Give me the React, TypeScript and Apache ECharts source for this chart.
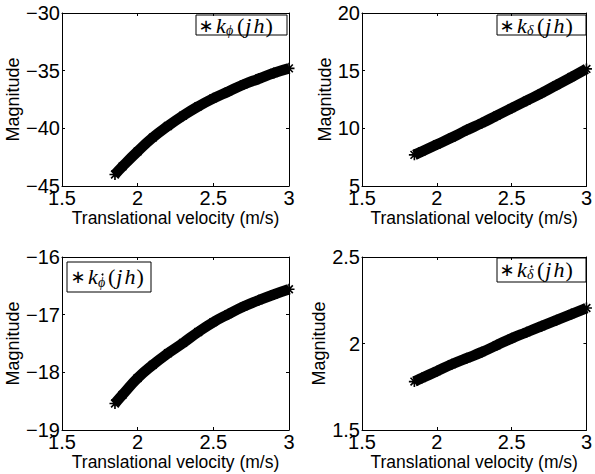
import React, { useEffect, useRef } from "react";
import * as echarts from "echarts";

// ---- data ----
const velocity = [1.85, 1.9, 2.0, 2.1, 2.2, 2.3, 2.4, 2.5, 2.6, 2.7, 2.8, 2.9, 3.0];
const kPhi = [-44.0, -43.3, -42.0, -40.8, -39.8, -38.9, -38.1, -37.4, -36.8, -36.2, -35.7, -35.2, -34.8];
const kDelta = [7.7, 8.0, 8.6, 9.2, 9.85, 10.45, 11.1, 11.75, 12.4, 13.05, 13.75, 14.45, 15.15];
const kPhiDot = [-18.54, -18.39, -18.1, -17.87, -17.67, -17.49, -17.3, -17.13, -16.99, -16.86, -16.75, -16.65, -16.56];
const kDeltaDot = [1.78, 1.8, 1.84, 1.88, 1.915, 1.95, 1.99, 2.03, 2.065, 2.1, 2.135, 2.17, 2.205];

const xMin = 1.5;
const xMax = 3;
const xStep = 0.5;
const yMins = [-45, 5, -19, 1.5];
const yMaxs = [-30, 20, -16, 2.5];
const ySteps = [5, 5, 1, 0.5];
const seriesNames = ["kϕ(jh)", "kδ(jh)", "kϕ̇(jh)", "kδ̇(jh)"];
const subscripts = ["ϕ", "δ", "ϕ", "δ"];
const subDots = [false, false, true, true];
const xLabel = "Translational velocity (m/s)";
const yLabel = "Magnitude";

// ---- layout ----
const grids = [
  { left: 62, top: 13, width: 227, height: 173 },
  { left: 362, top: 13, width: 226, height: 173 },
  { left: 62, top: 257, width: 227, height: 173 },
  { left: 362, top: 257, width: 226, height: 173 },
];
const yNameGaps = [37, 28, 37, 33];
const legendBoxes = [
  { x: 196, y: 15, w: 91, h: 20, ast: 10, k: 20, sub: 30, par: 41, mid: 10, subMid: 15 },
  { x: 497, y: 15, w: 89, h: 20, ast: 10, k: 20, sub: 30, par: 40, mid: 10, subMid: 15 },
  { x: 67, y: 262, w: 84, h: 30, ast: 11, k: 21, sub: 31, par: 41, mid: 14, subMid: 20 },
  { x: 497, y: 258, w: 89, h: 24, ast: 10, k: 20, sub: 30, par: 40, mid: 11, subMid: 16 },
];

const ASTERISK =
  "path://M8.5,0 L11.5,0 L11.5,20 L8.5,20 Z M0,8.5 L20,8.5 L20,11.5 L0,11.5 Z " +
  "M1.94,4.06 L4.06,1.94 L18.06,15.94 L15.94,18.06 Z M15.94,1.94 L18.06,4.06 L4.06,18.06 L1.94,15.94 Z";

const SANS = "Liberation Sans, Arial, Helvetica, sans-serif";
const SERIF = "Liberation Serif, Times New Roman, serif";

const fmt = (v: number) => String(v).replace("-", "\u2212");

function buildOption() {
  const allSeries = [kPhi, kDelta, kPhiDot, kDeltaDot];
  const xAxes: any[] = [];
  const yAxes: any[] = [];
  const series: any[] = [];
  const graphics: any[] = [];

  grids.forEach((g, i) => {
    const lineStyle = { color: "#000", width: 1 };
    const tick = { show: true, inside: true, length: 3, lineStyle };
    xAxes.push({
      type: "value",
      gridIndex: i,
      position: "bottom",
      min: xMin,
      max: xMax,
      interval: xStep,
      axisLine: { show: true, onZero: false, lineStyle },
      axisTick: tick,
      splitLine: { show: false },
      axisLabel: {
        color: "#000",
        fontSize: 20,
        fontFamily: SANS,
        margin: 2,
        showMinLabel: true,
        showMaxLabel: true,
        formatter: fmt,
      },
      name: xLabel,
      nameLocation: "middle",
      nameGap: 23,
      nameTextStyle: { color: "#000", fontSize: 17.5, fontFamily: SANS },
    });
    xAxes.push({
      type: "value",
      gridIndex: i,
      position: "top",
      min: xMin,
      max: xMax,
      interval: xStep,
      axisLine: { show: true, onZero: false, lineStyle },
      axisTick: tick,
      splitLine: { show: false },
      axisLabel: { show: false },
    });
    yAxes.push({
      type: "value",
      gridIndex: i,
      position: "left",
      min: yMins[i],
      max: yMaxs[i],
      interval: ySteps[i],
      axisLine: { show: true, onZero: false, lineStyle },
      axisTick: tick,
      splitLine: { show: false },
      axisLabel: {
        color: "#000",
        fontSize: 20,
        fontFamily: SANS,
        margin: 2,
        showMinLabel: true,
        showMaxLabel: true,
        formatter: fmt,
      },
      name: yLabel,
      nameLocation: "middle",
      nameRotate: 90,
      nameGap: yNameGaps[i],
      nameTextStyle: { color: "#000", fontSize: 18, fontFamily: SANS },
    });
    yAxes.push({
      type: "value",
      gridIndex: i,
      position: "right",
      min: yMins[i],
      max: yMaxs[i],
      interval: ySteps[i],
      axisLine: { show: true, onZero: false, lineStyle },
      axisTick: tick,
      splitLine: { show: false },
      axisLabel: { show: false },
    });

    series.push({
      name: seriesNames[i],
      type: "line",
      xAxisIndex: i * 2,
      yAxisIndex: i * 2,
      data: velocity.map((v, j) => [v, allSeries[i][j]]),
      smooth: true,
      clip: false,
      showSymbol: true,
      symbol: ASTERISK,
      symbolSize: 11,
      itemStyle: { color: "#000" },
      lineStyle: { color: "#000", width: 10.5 },
      z: 3,
    });

    const b = legendBoxes[i];
    const children: any[] = [
      {
        type: "rect",
        shape: { x: 0, y: 0, width: b.w, height: b.h },
        style: { fill: "#fff", stroke: "#000", lineWidth: 1 },
      },
      {
        type: "text",
        x: b.ast,
        y: b.mid,
        style: {
          text: "∗",
          fontSize: 18,
          fontFamily: "DejaVu Sans, sans-serif",
          fill: "#000",
          align: "center",
          verticalAlign: "middle",
        },
      },
      {
        type: "text",
        x: b.k,
        y: b.mid,
        style: {
          text: "k",
          fontSize: 22,
          fontStyle: "italic",
          fontFamily: SERIF,
          fill: "#000",
          align: "left",
          verticalAlign: "middle",
        },
      },
      {
        type: "text",
        x: b.sub,
        y: b.subMid,
        style: {
          text: subscripts[i],
          fontSize: 14,
          fontStyle: "italic",
          fontFamily: SERIF,
          fill: "#000",
          align: "left",
          verticalAlign: "middle",
        },
      },
      {
        type: "text",
        x: b.par,
        y: b.mid,
        style: {
          text: "{p|(}{i|j}{i|h}{p|)}",
          fill: "#000",
          align: "left",
          verticalAlign: "middle",
          rich: {
            p: { fontSize: 22, fontFamily: SERIF, fill: "#000" },
            i: { fontSize: 22, fontFamily: SERIF, fontStyle: "italic", fill: "#000", padding: [0, 1, 0, 1] },
          },
        },
      },
    ];
    if (subDots[i]) {
      children.push({
        type: "circle",
        shape: { cx: b.sub + 4.5, cy: b.subMid - 7.5, r: 1 },
        style: { fill: "#000" },
      });
    }
    graphics.push({ type: "group", x: b.x, y: b.y, z: 100, children });
  });

  return {
    animation: false,
    backgroundColor: "#fff",
    grid: grids.map((g) => ({ ...g, containLabel: false })),
    xAxis: xAxes,
    yAxis: yAxes,
    series,
    graphic: graphics,
  };
}

export default function App() {
  const ref = useRef<HTMLDivElement>(null);
  useEffect(() => {
    if (!ref.current) return;
    const chart = echarts.init(ref.current, null, { renderer: "svg" });
    chart.setOption(buildOption());
    return () => chart.dispose();
  }, []);
  return (
    <div
      ref={ref}
      style={{ position: "fixed", left: 0, top: 0, width: 595, height: 474, background: "#fff" }}
    />
  );
}
